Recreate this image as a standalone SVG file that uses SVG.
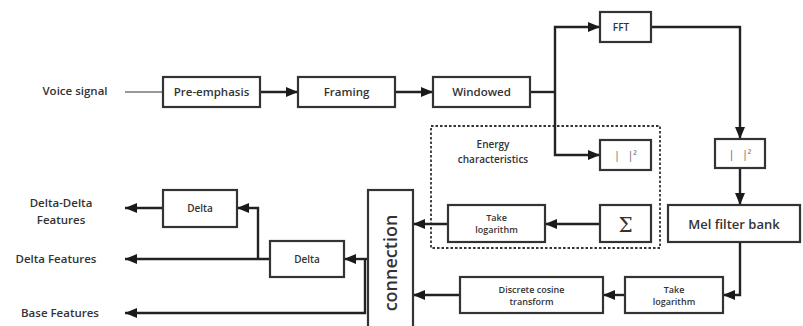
<svg xmlns="http://www.w3.org/2000/svg" width="803" height="326" viewBox="0 0 803 326">
<defs>
<marker id="ah" viewBox="0 0 12 10" refX="12" refY="5" markerWidth="12" markerHeight="10" markerUnits="userSpaceOnUse" orient="auto">
<path d="M0,0 L12,5 L0,10 Z" fill="#1a1a1a"/>
</marker>
<style>
.box{fill:#fff;stroke:#333;stroke-width:2.2}
.t{font-family:"Open Sans","Liberation Sans",sans-serif;font-weight:600;fill:#333;text-anchor:middle}
.m{font-size:11.5px}
.s{font-size:9px}
.c{fill:none;stroke:#222;stroke-width:2.4}
.ca{fill:none;stroke:#222;stroke-width:2.4;marker-end:url(#ah)}
</style>
</defs>
<rect width="803" height="326" fill="#fff"/>

<g id="labels">
<text class="t m" x="75" y="95">Voice signal</text>
<text class="t m" x="61" y="207">Delta-Delta</text>
<text class="t m" x="61" y="224">Features</text>
<text class="t m" x="56" y="263">Delta Features</text>
<text class="t m" x="60" y="317">Base Features</text>
</g>

<g id="energy-group">
<rect x="431" y="126" width="229" height="122" fill="none" stroke="#333" stroke-width="1.8" stroke-dasharray="2.5,2"/>
<text class="t s" x="493" y="148" style="font-size:10px">Energy</text>
<text class="t s" x="493" y="163" style="font-size:10px">characteristics</text>
</g>

<g id="connectors">
<line x1="125" y1="92" x2="163" y2="92" stroke="#333" stroke-width="1"/>
<line class="ca" x1="260" y1="92" x2="298" y2="92"/>
<line class="ca" x1="395" y1="92" x2="433" y2="92"/>
<polyline class="c" points="530,92 555,92"/>
<polyline class="ca" points="555,92 555,27 600,27"/>
<polyline class="ca" points="555,92 555,155 600,155"/>
<polyline class="ca" points="651,27 740,27 740,139"/>
<line class="ca" x1="740" y1="168" x2="740" y2="205"/>
<polyline class="ca" points="740,242 740,295 723,295"/>
<line class="ca" x1="625" y1="295" x2="603" y2="295"/>
<line class="ca" x1="460" y1="295" x2="413" y2="295"/>
<line class="ca" x1="600" y1="224" x2="545" y2="224"/>
<line class="ca" x1="448" y1="224" x2="413" y2="224"/>
<line class="ca" x1="368" y1="259" x2="344" y2="259"/>
<polyline class="ca" points="365,259 365,313 125,313"/>
<line class="ca" x1="270" y1="259" x2="125" y2="259"/>
<polyline class="ca" points="258,259 258,208 237,208"/>
<line class="ca" x1="163" y1="208" x2="125" y2="208"/>
</g>

<g id="pre-emphasis"><rect class="box" x="163" y="77" width="97" height="30"/><text class="t m" x="211.5" y="96">Pre-emphasis</text></g>
<g id="framing"><rect class="box" x="298" y="77" width="97" height="30"/><text class="t m" x="346.5" y="96">Framing</text></g>
<g id="windowed"><rect class="box" x="433" y="77" width="97" height="30"/><text class="t m" x="481.5" y="96">Windowed</text></g>
<g id="fft"><rect class="box" x="600" y="12" width="51" height="30"/><text class="t" x="621" y="31" style="font-size:10px">FFT</text></g>
<g id="abs2-energy"><rect class="box" x="600" y="140" width="51" height="30"/><text class="t" x="625.5" y="159" style="font-size:10px;font-weight:400;fill:#555" xml:space="preserve">|   |²</text></g>
<g id="abs2-mel"><rect class="box" x="715" y="139" width="50" height="29"/><text class="t" x="740" y="158" style="font-size:10px;font-weight:400;fill:#555" xml:space="preserve">|   |²</text></g>
<g id="mel-filter-bank"><rect class="box" x="668" y="205" width="132" height="37"/><text class="t" x="734" y="229" style="font-size:13px">Mel filter bank</text></g>
<g id="sum"><rect class="box" x="600" y="205" width="51" height="37"/><text x="625.5" y="232" text-anchor="middle" style="font-family:'DejaVu Serif',serif;font-size:20px;fill:#333">Σ</text></g>
<g id="take-log-energy"><rect class="box" x="448" y="205" width="97" height="37"/><text class="t s" x="496.5" y="221">Take</text><text class="t s" x="496.5" y="233">logarithm</text></g>
<g id="take-log-mel"><rect class="box" x="625" y="277" width="98" height="36"/><text class="t s" x="674" y="293">Take</text><text class="t s" x="674" y="305">logarithm</text></g>
<g id="dct"><rect class="box" x="460" y="277" width="143" height="36"/><text class="t s" x="531.5" y="293">Discrete cosine</text><text class="t s" x="531.5" y="305">transform</text></g>
<g id="connection"><rect class="box" x="368" y="190" width="45" height="140"/><text class="t" transform="translate(397,263) rotate(-90)" style="font-size:18px">connection</text></g>
<g id="delta-1"><rect class="box" x="270" y="241" width="74" height="36"/><text class="t s" x="307" y="263" style="font-size:10px">Delta</text></g>
<g id="delta-2"><rect class="box" x="163" y="190" width="74" height="37"/><text class="t s" x="200" y="212" style="font-size:10px">Delta</text></g>
</svg>
